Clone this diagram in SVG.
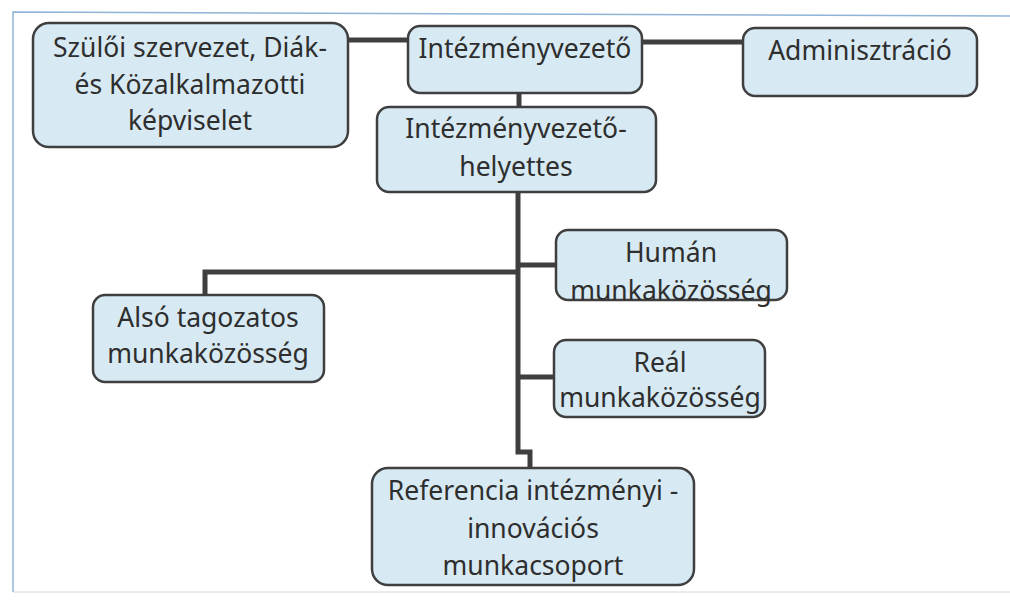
<svg xmlns="http://www.w3.org/2000/svg" width="1010" height="600" viewBox="0 0 1010 600">
<style>
.box{fill:#d7e9f2;stroke:#3f3f3f;stroke-width:2.5}
.t{font-family:"Noto Sans","Open Sans",sans-serif;font-size:26.5px;fill:#2e2e2e;text-anchor:middle}
.c{fill:none;stroke:#3f3f3f;stroke-width:5;stroke-linejoin:miter}
</style>
<rect x="0" y="0" width="1010" height="600" fill="#ffffff"/>
<path d="M13 592 V12 L1010 16" fill="none" stroke="#8fb4d8" stroke-width="1.5"/>
<path d="M13 592 H1010" fill="none" stroke="#d0d8e0" stroke-width="1"/>
<g id="connectors">
<path class="c" d="M348 40 H408"/>
<path class="c" d="M642 42 H743"/>
<path class="c" d="M519 93 V107"/>
<path class="c" d="M518 192 V452 H530 V468"/>
<path class="c" d="M518 265 H556"/>
<path class="c" d="M518 272 H205 V295"/>
<path class="c" d="M518 377 H554"/>
</g>
<g id="n-szuloi">
<rect class="box" x="33" y="23" width="315" height="124" rx="16"/>
<text class="t" x="190" y="57">Szülői szervezet, Diák-</text>
<text class="t" x="190" y="94">és Közalkalmazotti</text>
<text class="t" x="190" y="130">képviselet</text>
</g>
<g id="n-iv">
<rect class="box" x="408" y="26" width="234" height="67" rx="12"/>
<text class="t" x="525" y="58">Intézményvezető</text>
</g>
<g id="n-admin">
<rect class="box" x="743" y="28" width="234" height="68" rx="12"/>
<text class="t" x="860" y="60">Adminisztráció</text>
</g>
<g id="n-ivh">
<rect class="box" x="377" y="107" width="279" height="85" rx="12"/>
<text class="t" x="516" y="138">Intézményvezető-</text>
<text class="t" x="516" y="176">helyettes</text>
</g>
<g id="n-human">
<rect class="box" x="556" y="230" width="231" height="70" rx="12"/>
<text class="t" x="671" y="262">Humán</text>
<text class="t" x="671" y="300">munkaközösség</text>
</g>
<g id="n-also">
<rect class="box" x="93" y="295" width="231" height="87" rx="12"/>
<text class="t" x="208" y="327">Alsó tagozatos</text>
<text class="t" x="208" y="363">munkaközösség</text>
</g>
<g id="n-real">
<rect class="box" x="554" y="340" width="211" height="77" rx="12"/>
<text class="t" x="660" y="372">Reál</text>
<text class="t" x="660" y="407">munkaközösség</text>
</g>
<g id="n-ref">
<rect class="box" x="372" y="468" width="322" height="117" rx="16"/>
<text class="t" x="533" y="500">Referencia intézményi -</text>
<text class="t" x="533" y="538">innovációs</text>
<text class="t" x="533" y="575">munkacsoport</text>
</g>
</svg>
